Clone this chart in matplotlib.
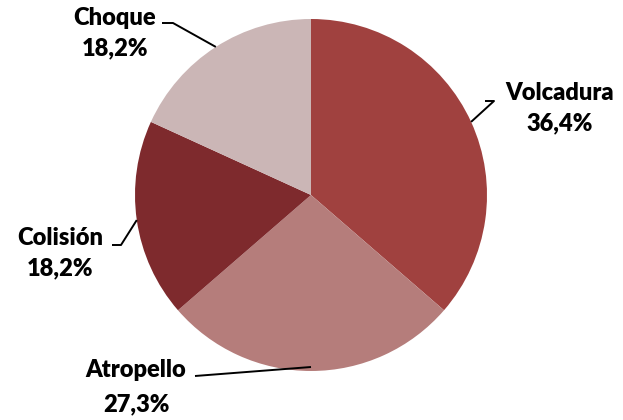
import numpy as np
import matplotlib.pyplot as plt

plt.rcParams['font.family'] = ['Lato', 'DejaVu Sans']

categorias = ["Volcadura", "Atropello", "Colisión", "Choque"]
valores = [36.4, 27.3, 18.2, 18.2]
colores = ["#A0413F", "#B57D7B", "#7E2A2D", "#CBB6B6"]

# centro x del texto y líneas base (píxeles desde arriba)
pos_texto = [(560, 100, 130), (136, 377, 411), (60, 245, 275), (115, 25, 55)]
# tramo horizontal de la línea guía (píxeles)
codo = [((485, 101), (494, 101)), ((195, 376), (195, 376)), ((112, 245), (121, 245)), ((162, 23), (173, 23))]

W, H = 623, 420
cx, cy, r = 311, 195, 176

fig = plt.figure(figsize=(6.23, 4.2), dpi=100)
ax = fig.add_axes([0, 0, 1, 1])

wedges, _ = ax.pie(valores, colors=colores, startangle=90, counterclock=False,
                   center=(cx, H - cy), radius=r, wedgeprops=dict(linewidth=0))
ax.set_xlim(0, W)
ax.set_ylim(0, H)
ax.set_aspect("equal")
ax.axis("off")

for w, cat, val, (tx, b1, b2), (p0, p1) in zip(wedges, categorias, valores, pos_texto, codo):
    ang = np.deg2rad((w.theta1 + w.theta2) / 2)
    ex = cx + r * np.cos(ang)
    ey = cy - r * np.sin(ang)
    if cat == "Atropello":
        ey = ey - 4
    ax.plot([p0[0], p1[0], ex], [H - p0[1], H - p1[1], H - ey], color="black", lw=1.4,
            solid_capstyle="butt")
    ax.text(tx, H - b1, cat, ha="center", va="baseline", fontsize=17, fontweight="heavy")
    ax.text(tx, H - b2, f"{val:.1f}%".replace(".", ","), ha="center", va="baseline",
            fontsize=17, fontweight="heavy")

plt.savefig("out.png", dpi=100)
plt.close()
